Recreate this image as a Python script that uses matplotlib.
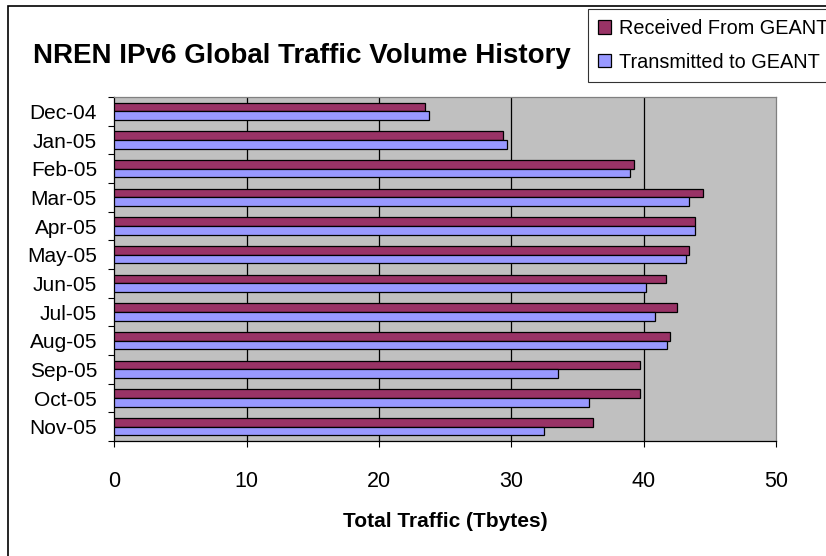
import matplotlib
matplotlib.use("Agg")
import matplotlib.pyplot as plt
from matplotlib.patches import Rectangle

months = ["Dec-04", "Jan-05", "Feb-05", "Mar-05", "Apr-05", "May-05",
          "Jun-05", "Jul-05", "Aug-05", "Sep-05", "Oct-05", "Nov-05"]
received = [23.5, 29.4, 39.3, 44.5, 43.9, 43.4, 41.7, 42.5, 42.0, 39.7, 39.7, 36.2]
transmitted = [23.8, 29.7, 39.0, 43.4, 43.9, 43.2, 40.2, 40.9, 41.8, 33.5, 35.9, 32.5]
xticks = [0, 10, 20, 30, 40, 50]

plt.rcParams['font.family'] = ['Liberation Sans Narrow', 'Liberation Sans', 'DejaVu Sans']

fig = plt.figure(figsize=(8.26, 5.56), dpi=100)
ax = fig.add_axes([0.1384, 0.2068, 0.8009, 0.6187])
ax.set_facecolor('#C0C0C0')

ypos = list(range(len(months)))
h = 0.3
rec = ax.barh([y - h / 2 for y in ypos], received, height=h, color='#993366',
              edgecolor='black', linewidth=0.9, zorder=3, label='Received From GEANT')
tra = ax.barh([y + h / 2 for y in ypos], transmitted, height=h, color='#9999FF',
              edgecolor='black', linewidth=0.9, zorder=3, label='Transmitted to GEANT')

ax.set_xlim(0, 50)
ax.set_ylim(len(months) - 0.5, -0.5)

# gridlines
for v in xticks[1:-1]:
    ax.axvline(v, color='black', linewidth=0.9, zorder=1)

ax.set_xticks(xticks)
ax.set_xticklabels([str(v) for v in xticks], fontsize=15.5)
ax.tick_params(axis='x', direction='out', length=4.5, width=0.8, pad=17)

# y ticks at category boundaries, labels at centres
ax.set_yticks([y - 0.5 for y in range(len(months) + 1)])
ax.set_yticklabels([])
ax.set_yticks(ypos, minor=True)
ax.set_yticklabels(months, minor=True, fontsize=15)
ax.tick_params(axis='y', which='major', direction='out', length=4.5, width=0.8)
ax.tick_params(axis='y', which='minor', length=0, pad=12.5)

for s in ['left', 'bottom']:
    ax.spines[s].set_color('black')
    ax.spines[s].set_linewidth(0.9)
for s in ['top', 'right']:
    ax.spines[s].set_color('#808080')
    ax.spines[s].set_linewidth(0.9)

ax.set_xlabel('Total Traffic (Tbytes)', fontsize=15, fontweight='bold')
ax.xaxis.set_label_coords(0.5, -0.205)

fig.text(33 / 826, 1 - 56 / 556, 'NREN IPv6 Global Traffic Volume History',
         fontsize=20, fontweight='bold', ha='left', va='center')

leg = fig.legend(handles=[rec, tra], loc='upper left',
                 bbox_to_anchor=(588 / 826, 1 - 9 / 556), fontsize=14.3,
                 frameon=True, fancybox=False, edgecolor='black',
                 handlelength=0.65, handleheight=0.65, handletextpad=0.4,
                 borderpad=0.5, labelspacing=0.75, borderaxespad=0)
leg.get_frame().set_linewidth(0.8)

# outer chart frame (cut off at right and bottom)
fig.patches.append(Rectangle((8 / 826, -0.1), 1.2, 1.1 - 6 / 556,
                             transform=fig.transFigure, fill=False,
                             edgecolor='black', linewidth=1.2))

fig.savefig('out.png', dpi=100)
